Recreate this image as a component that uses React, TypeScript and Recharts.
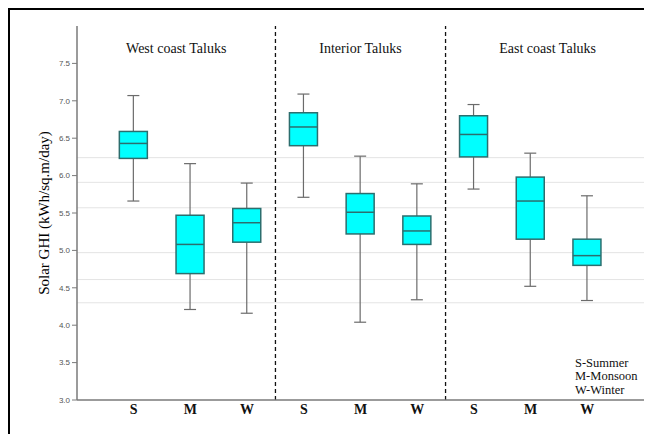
import { Bar, CartesianGrid, ComposedChart, ReferenceLine, XAxis, YAxis } from "recharts";

const groups = ["West coast Taluks", "Interior Taluks", "East coast Taluks"];
const groupCenters = [1.75, 5, 8.3];
const seasons = ["S", "M", "W", "S", "M", "W", "S", "M", "W"];
const positions = [1, 2, 3, 4, 5, 6, 7, 8, 9];
const whiskerMax = [7.07, 6.16, 5.9, 7.09, 6.26, 5.89, 6.95, 6.3, 5.73];
const q3 = [6.59, 5.47, 5.56, 6.84, 5.76, 5.46, 6.8, 5.98, 5.15];
const median = [6.43, 5.08, 5.37, 6.65, 5.51, 5.26, 6.55, 5.66, 4.93];
const q1 = [6.23, 4.69, 5.11, 6.4, 5.22, 5.08, 6.25, 5.15, 4.8];
const whiskerMin = [5.66, 4.21, 4.16, 5.71, 4.04, 4.34, 5.82, 4.52, 4.33];
const yTicks = [3, 3.5, 4, 4.5, 5, 5.5, 6, 6.5, 7, 7.5];
const separators = [3.5, 6.5];
// faint scan lines visible in the original figure
const faintLines = [6.24, 6.09, 5.91, 5.68, 5.57, 4.97, 4.85, 4.74, 4.61, 4.49, 4.38, 4.3];
const legendLines = ["S-Summer", "M-Monsoon", "W-Winter"];

const data = positions.map((pos, i) => ({
  pos,
  season: seasons[i],
  box: [q1[i], q3[i]],
  min: whiskerMin[i],
  q1: q1[i],
  median: median[i],
  q3: q3[i],
  max: whiskerMax[i],
}));

const serif = "Times New Roman, Liberation Serif, DejaVu Serif, serif";
const axisGray = "#7a7a7a";

function BoxShape(props: any) {
  const { x, y, width, height, payload } = props;
  const top = Math.min(y, y + height);
  const h = Math.abs(height);
  const ppu = h / (payload.q3 - payload.q1);
  const cx = x + width / 2;
  const yMax = top - (payload.max - payload.q3) * ppu;
  const yMin = top + h + (payload.q1 - payload.min) * ppu;
  const yMed = top + (payload.q3 - payload.median) * ppu;
  const cap = 6;
  return (
    <g>
      <line x1={cx} x2={cx} y1={yMax} y2={top} stroke="#6b6b6b" strokeWidth={1.2} />
      <line x1={cx} x2={cx} y1={top + h} y2={yMin} stroke="#6b6b6b" strokeWidth={1.2} />
      <line x1={cx - cap} x2={cx + cap} y1={yMax} y2={yMax} stroke="#6b6b6b" strokeWidth={1.2} />
      <line x1={cx - cap} x2={cx + cap} y1={yMin} y2={yMin} stroke="#6b6b6b" strokeWidth={1.2} />
      <rect x={x} y={top} width={width} height={h} fill="#00ffff" stroke="#2c6e6e" strokeWidth={1.5} />
      <line x1={x} x2={x + width} y1={yMed} y2={yMed} stroke="#2c6e6e" strokeWidth={1.5} />
    </g>
  );
}

export default function App() {
  return (
    <div style={{ position: "relative", width: 644, height: 426 }}>
      <ComposedChart
        width={644}
        height={426}
        data={data}
        margin={{ top: 18, right: 8, left: 0, bottom: 0 }}
      >
        <CartesianGrid vertical={false} horizontalValues={faintLines} stroke="#e4e4e4" />
        <XAxis
          dataKey="pos"
          type="number"
          domain={[0, 10]}
          ticks={positions}
          tickFormatter={(v: number) => seasons[v - 1]}
          height={34}
          tickLine={false}
          tickSize={0}
          tickMargin={4}
          axisLine={{ stroke: axisGray, strokeWidth: 1.5 }}
          tick={{ fill: "#111", fontSize: 14, fontFamily: serif, fontWeight: 700 }}
        />
        <XAxis
          xAxisId="top"
          orientation="top"
          dataKey="pos"
          type="number"
          domain={[0, 10]}
          height={0}
          tick={false}
          tickLine={false}
          axisLine={{ stroke: axisGray, strokeWidth: 1.2 }}
        />
        <YAxis
          domain={[3, 8]}
          ticks={yTicks}
          width={69}
          tickSize={5}
          tickMargin={2}
          tickFormatter={(v: number) => v.toFixed(1)}
          tickLine={{ stroke: axisGray }}
          axisLine={{ stroke: axisGray, strokeWidth: 1.5 }}
          tick={{ fill: "#555", fontSize: 8, fontFamily: "Liberation Sans, Arial, sans-serif" }}
          label={{
            value: "Solar GHI (kWh/sq.m/day)",
            angle: -90,
            position: "center",
            dx: 1,
            style: { fill: "#000", fontSize: 15, fontFamily: serif, textAnchor: "middle" },
          }}
        />
        <YAxis
          yAxisId="right"
          orientation="right"
          domain={[3, 8]}
          width={0}
          tick={false}
          tickLine={false}
          axisLine={{ stroke: axisGray, strokeWidth: 1.2 }}
        />
        {separators.map((s) => (
          <ReferenceLine key={s} x={s} stroke="#111" strokeWidth={1.3} strokeDasharray="4 3" />
        ))}
        <Bar dataKey="box" barSize={28} shape={BoxShape} isAnimationActive={false} />
      </ComposedChart>
      {groups.map((g, i) => (
        <div
          key={g}
          style={{
            position: "absolute",
            left: 69 + (567 * groupCenters[i]) / 10 - 80,
            width: 160,
            top: 33,
            textAlign: "center",
            fontFamily: serif,
            fontSize: 14,
            color: "#111",
          }}
        >
          {g}
        </div>
      ))}
      <div
        style={{
          position: "absolute",
          left: 567,
          top: 349,
          fontFamily: serif,
          fontSize: 12.5,
          lineHeight: "13.3px",
          color: "#111",
        }}
      >
        {legendLines.map((l) => (
          <div key={l}>{l}</div>
        ))}
      </div>
      <div
        style={{
          position: "absolute",
          left: 0,
          top: 0,
          right: 0,
          bottom: 0,
          borderTop: "2px solid #000",
          borderLeft: "2px solid #000",
          pointerEvents: "none",
        }}
      />
    </div>
  );
}
